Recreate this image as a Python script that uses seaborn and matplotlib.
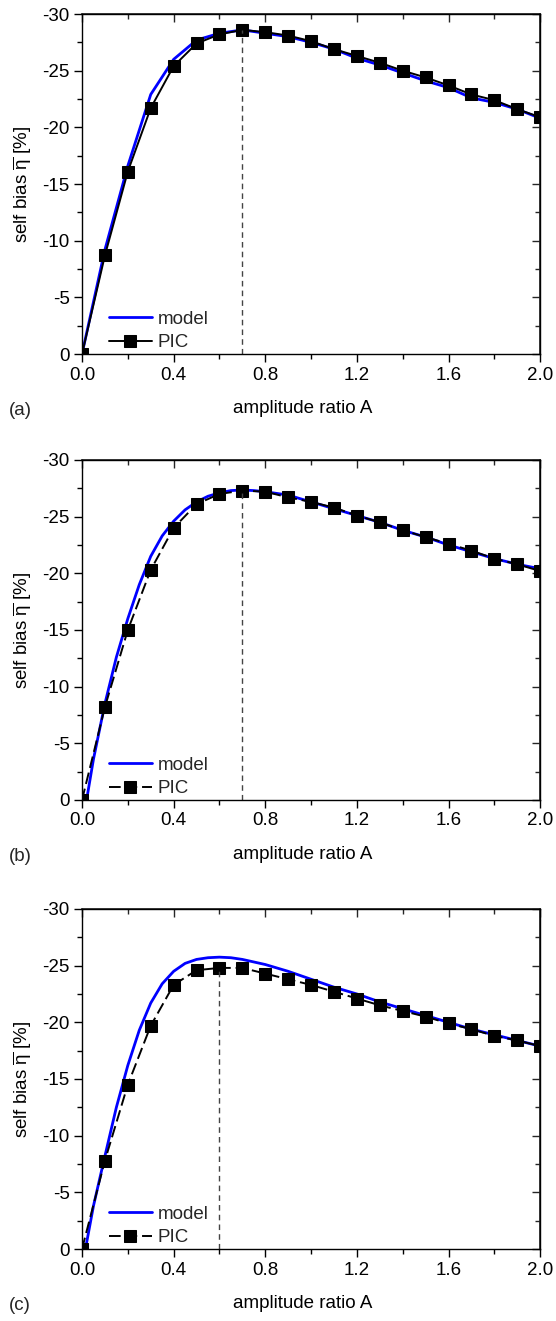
import numpy as np
import pandas as pd
import matplotlib
matplotlib.use("Agg")
import matplotlib.pyplot as plt
import seaborn as sns

# PIC data, x = 0.0 ... 2.0 step 0.1
pic_x = [0.0, 0.1, 0.2, 0.3, 0.4, 0.5, 0.6, 0.7, 0.8, 0.9, 1.0,
         1.1, 1.2, 1.3, 1.4, 1.5, 1.6, 1.7, 1.8, 1.9, 2.0]
pic_a = [0.0, -8.7, -16.1, -21.7, -25.4, -27.4, -28.2, -28.6, -28.4, -28.1, -27.6,
         -26.9, -26.3, -25.7, -25.0, -24.4, -23.7, -22.9, -22.4, -21.6, -20.9]
pic_b = [0.0, -8.2, -15.0, -20.3, -24.0, -26.1, -27.0, -27.3, -27.2, -26.7, -26.3,
         -25.8, -25.1, -24.5, -23.8, -23.2, -22.6, -22.0, -21.3, -20.8, -20.2]
pic_c = [0.0, -7.8, -14.5, -19.7, -23.3, -24.6, -24.8, -24.8, -24.3, -23.8, -23.3,
         -22.7, -22.1, -21.5, -21.0, -20.5, -19.9, -19.4, -18.8, -18.4, -17.9]

# model curves
model_a_x = [0.0, 0.1, 0.2, 0.3, 0.4, 0.5, 0.6, 0.7, 0.8, 0.9, 1.0,
             1.1, 1.2, 1.3, 1.4, 1.5, 1.6, 1.7, 1.8, 1.9, 2.0]
model_a = [0.0, -9.2, -16.6, -22.9, -26.0, -27.7, -28.3, -28.6, -28.3, -28.0, -27.5,
           -26.9, -26.1, -25.5, -24.8, -24.1, -23.5, -22.6, -22.2, -21.6, -20.8]

model_b_x = [0.02, 0.05, 0.1, 0.15, 0.2, 0.25, 0.3, 0.35, 0.4, 0.45, 0.5, 0.55,
             0.6, 0.65, 0.7, 0.75, 0.8, 0.9, 1.0, 1.1, 1.2, 1.3, 1.4, 1.5,
             1.6, 1.7, 1.8, 1.9, 2.0]
model_b = [0.0, -3.6, -8.5, -12.6, -16.0, -19.0, -21.5, -23.3, -24.6, -25.6, -26.3, -26.8,
           -27.1, -27.3, -27.35, -27.3, -27.2, -26.9, -26.3, -25.7, -25.1, -24.5, -23.8, -23.2,
           -22.5, -21.9, -21.3, -20.8, -20.4]

model_c_x = [0.015, 0.05, 0.1, 0.15, 0.2, 0.25, 0.3, 0.35, 0.4, 0.45, 0.5, 0.55,
             0.6, 0.65, 0.7, 0.8, 0.9, 1.0, 1.1, 1.2, 1.3, 1.4, 1.5,
             1.6, 1.7, 1.8, 1.9, 2.0]
model_c = [0.0, -3.8, -8.2, -12.5, -16.2, -19.3, -21.7, -23.4, -24.5, -25.2, -25.55, -25.7,
           -25.75, -25.7, -25.55, -25.1, -24.5, -23.8, -23.1, -22.5, -21.8, -21.2, -20.6,
           -20.0, -19.4, -18.9, -18.4, -17.9]

peak_x = [0.7, 0.7, 0.6]
peak_y = [-28.6, -27.3, -24.8]
panel_tags = ["(a)", "(b)", "(c)"]
pic_styles = ["-", (0, (6, 2.5)), (0, (6, 2.5))]

sns.set_theme(style="ticks")
plt.rcParams['font.family'] = ['Liberation Sans', 'DejaVu Sans']
plt.rcParams['axes.unicode_minus'] = False
plt.rcParams['mathtext.fontset'] = 'custom'
plt.rcParams['mathtext.rm'] = 'Liberation Sans'

fs = 13.5
fig = plt.figure(figsize=(5.56, 13.21), dpi=100)
bottoms = [0.732, 0.3944, 0.0545]

models = [(model_a_x, model_a), (model_b_x, model_b), (model_c_x, model_c)]
pics = [pic_a, pic_b, pic_c]

for i in range(3):
    ax = fig.add_axes([0.1475, bottoms[i], 0.824, 0.2574])
    mx, my = models[i]
    sns.lineplot(x=mx, y=my, ax=ax, color="#0000ff", lw=2.0, label="model")
    sns.lineplot(x=pic_x, y=pics[i], ax=ax, color="black", lw=1.4,
                 linestyle=pic_styles[i], marker="s", markersize=8,
                 markeredgecolor="black", label="PIC")
    ax.plot([peak_x[i], peak_x[i]], [0, peak_y[i]], color="#444444", lw=1.0,
            linestyle=(0, (4, 3)))

    ax.set_xlim(0, 2.0)
    ax.set_ylim(0, -30)
    ax.set_xticks(np.arange(0, 2.01, 0.4))
    ax.set_xticklabels(["0.0", "0.4", "0.8", "1.2", "1.6", "2.0"])
    ax.set_xticks(np.arange(0, 2.01, 0.2), minor=True)
    ax.set_yticks([0, -5, -10, -15, -20, -25, -30])
    ax.set_yticklabels(["0", "-5", "-10", "-15", "-20", "-25", "-30"])
    ax.set_yticks(np.arange(0, -30.1, -2.5), minor=True)
    ax.tick_params(which="major", direction="out", length=6, width=1, labelsize=fs,
                   color="black", labelcolor="black", pad=3)
    ax.tick_params(which="minor", direction="out", length=3.5, width=1, color="black")
    for s in ax.spines.values():
        s.set_color("black")
        s.set_linewidth(1.0)

    top = ax.secondary_xaxis("top")
    top.set_xticks(np.arange(0, 2.01, 0.4))
    top.set_xticks(np.arange(0, 2.01, 0.2), minor=True)
    top.tick_params(which="major", direction="in", length=6, width=1, labeltop=False)
    top.tick_params(which="minor", direction="in", length=3.5, width=1)
    right = ax.secondary_yaxis("right")
    right.set_yticks([0, -5, -10, -15, -20, -25, -30])
    right.set_yticks(np.arange(0, -30.1, -2.5), minor=True)
    right.tick_params(which="major", direction="in", length=6, width=1, labelright=False)
    right.tick_params(which="minor", direction="in", length=3.5, width=1)

    ax.set_xlabel("amplitude ratio A", fontsize=fs, color="black", labelpad=10)
    ax.xaxis.set_label_coords(0.482, -0.135)
    ax.set_ylabel(r"self bias $\overline{\mathregular{\eta}}$ [%]", fontsize=fs,
                  color="black", labelpad=6)
    ax.text(-0.16, -0.165, panel_tags[i], transform=ax.transAxes, fontsize=fs,
            ha="left", va="center")

    ax.legend(loc="lower left", frameon=False, fontsize=fs, handlelength=2.3,
              handletextpad=0.3, labelspacing=0.32, borderaxespad=0.3,
              bbox_to_anchor=(0.03, -0.03))

fig.savefig("out.png", dpi=100)
